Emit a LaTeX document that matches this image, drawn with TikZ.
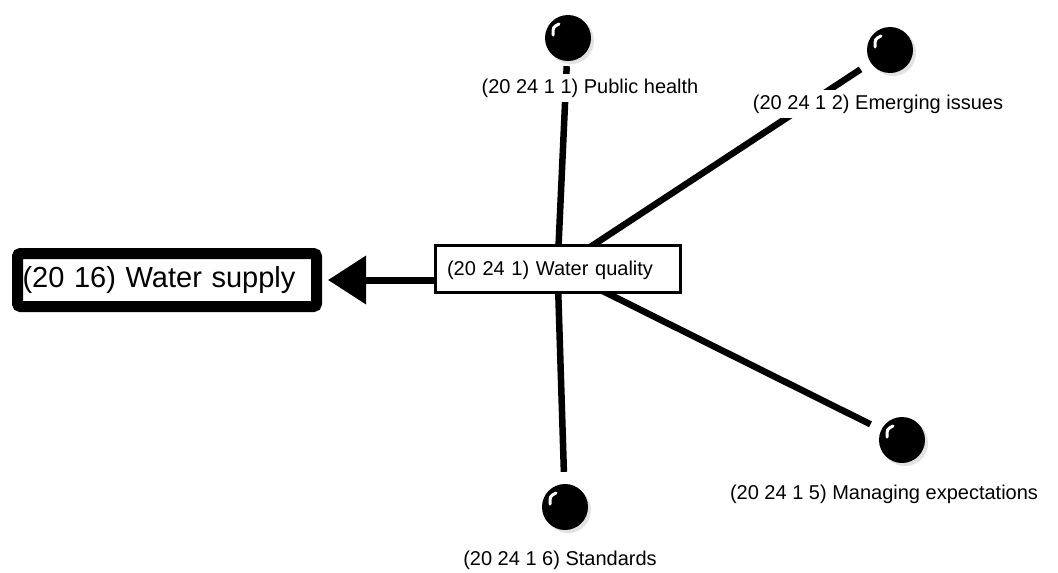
\documentclass[tikz,border=0pt]{standalone}
\usepackage{fontspec}
\setmainfont{Liberation Sans}
\usetikzlibrary{positioning, arrows.meta, shadows, backgrounds}

\tikzset{
  lbl/.style={fill=white, inner xsep=3pt, inner ysep=4.5pt, font=\fontsize{20}{24}\selectfont},
  ball/.style={circle, fill=black, minimum size=46pt, inner sep=0pt,
    drop shadow={shadow xshift=3pt, shadow yshift=-3pt, fill=gray!45},
    path picture={
      \draw[white, line width=3pt, line cap=round]
        ([shift={(-15,-3)}]path picture bounding box.center)
        .. controls ([shift={(-15,-11)}]path picture bounding box.center)
        .. ([shift={(-9,-14)}]path picture bounding box.center);
    }},
  spoke/.style={line width=6.5pt, shorten >=12pt},
  wsbox/.style={draw, line width=11pt, rounded corners=3pt, fill=white,
    minimum width=299pt, minimum height=53pt, text width=289pt,
    inner xsep=5pt, align=left, font=\fontsize{29}{34}\selectfont},
  wqbox/.style={draw, line width=3pt, fill=white,
    minimum width=245pt, minimum height=47pt, text width=221pt, text depth=0pt,
    inner xsep=12pt, align=left, font=\fontsize{20}{24}\selectfont}
}

\begin{document}
\begin{tikzpicture}[x=1pt, y=-1pt]
  \useasboundingbox (0,0) rectangle (1058,573);

  % boxes
  \node[wsbox] (ws) at (167,280) {(20 16) Water supply};
  \node[wqbox] (wq) at (557.5,268.5) {(20 24 1) Water quality};

  % balls and their labels
  \node[ball] (pubball) at (568,38) {};
  \node[ball] (emgball) at (890,50) {};
  \node[ball] (mngball) at (902,440) {};
  \node[ball] (stdball) at (565,507) {};

  \node[lbl] (pub) at (590,88) {(20 24 1 1) Public health};
  \node[lbl] (emg) at (878,104) {(20 24 1 2) Emerging issues};
  \node[lbl] (mng) at (884,494) {(20 24 1 5) Managing expectations};
  \node[lbl] (std) at (560,560) {(20 24 1 6) Standards};

  % spokes behind everything
  \begin{scope}[on background layer]
    \fill[white] (0,0) rectangle (1058,573);
    \draw[spoke, shorten >=5pt] (wq.center) -- (pubball);
    \draw[spoke] (wq.center) -- (emgball);
    \draw[spoke] (wq.center) -- (mngball);
    \draw[spoke] (wq.center) -- (stdball);
  \end{scope}

  \draw[line width=7pt, -{Triangle[length=38pt,width=47pt]}, shorten >=6pt]
    (wq.west |- ws.east) -- (ws.east);
\end{tikzpicture}
\end{document}
